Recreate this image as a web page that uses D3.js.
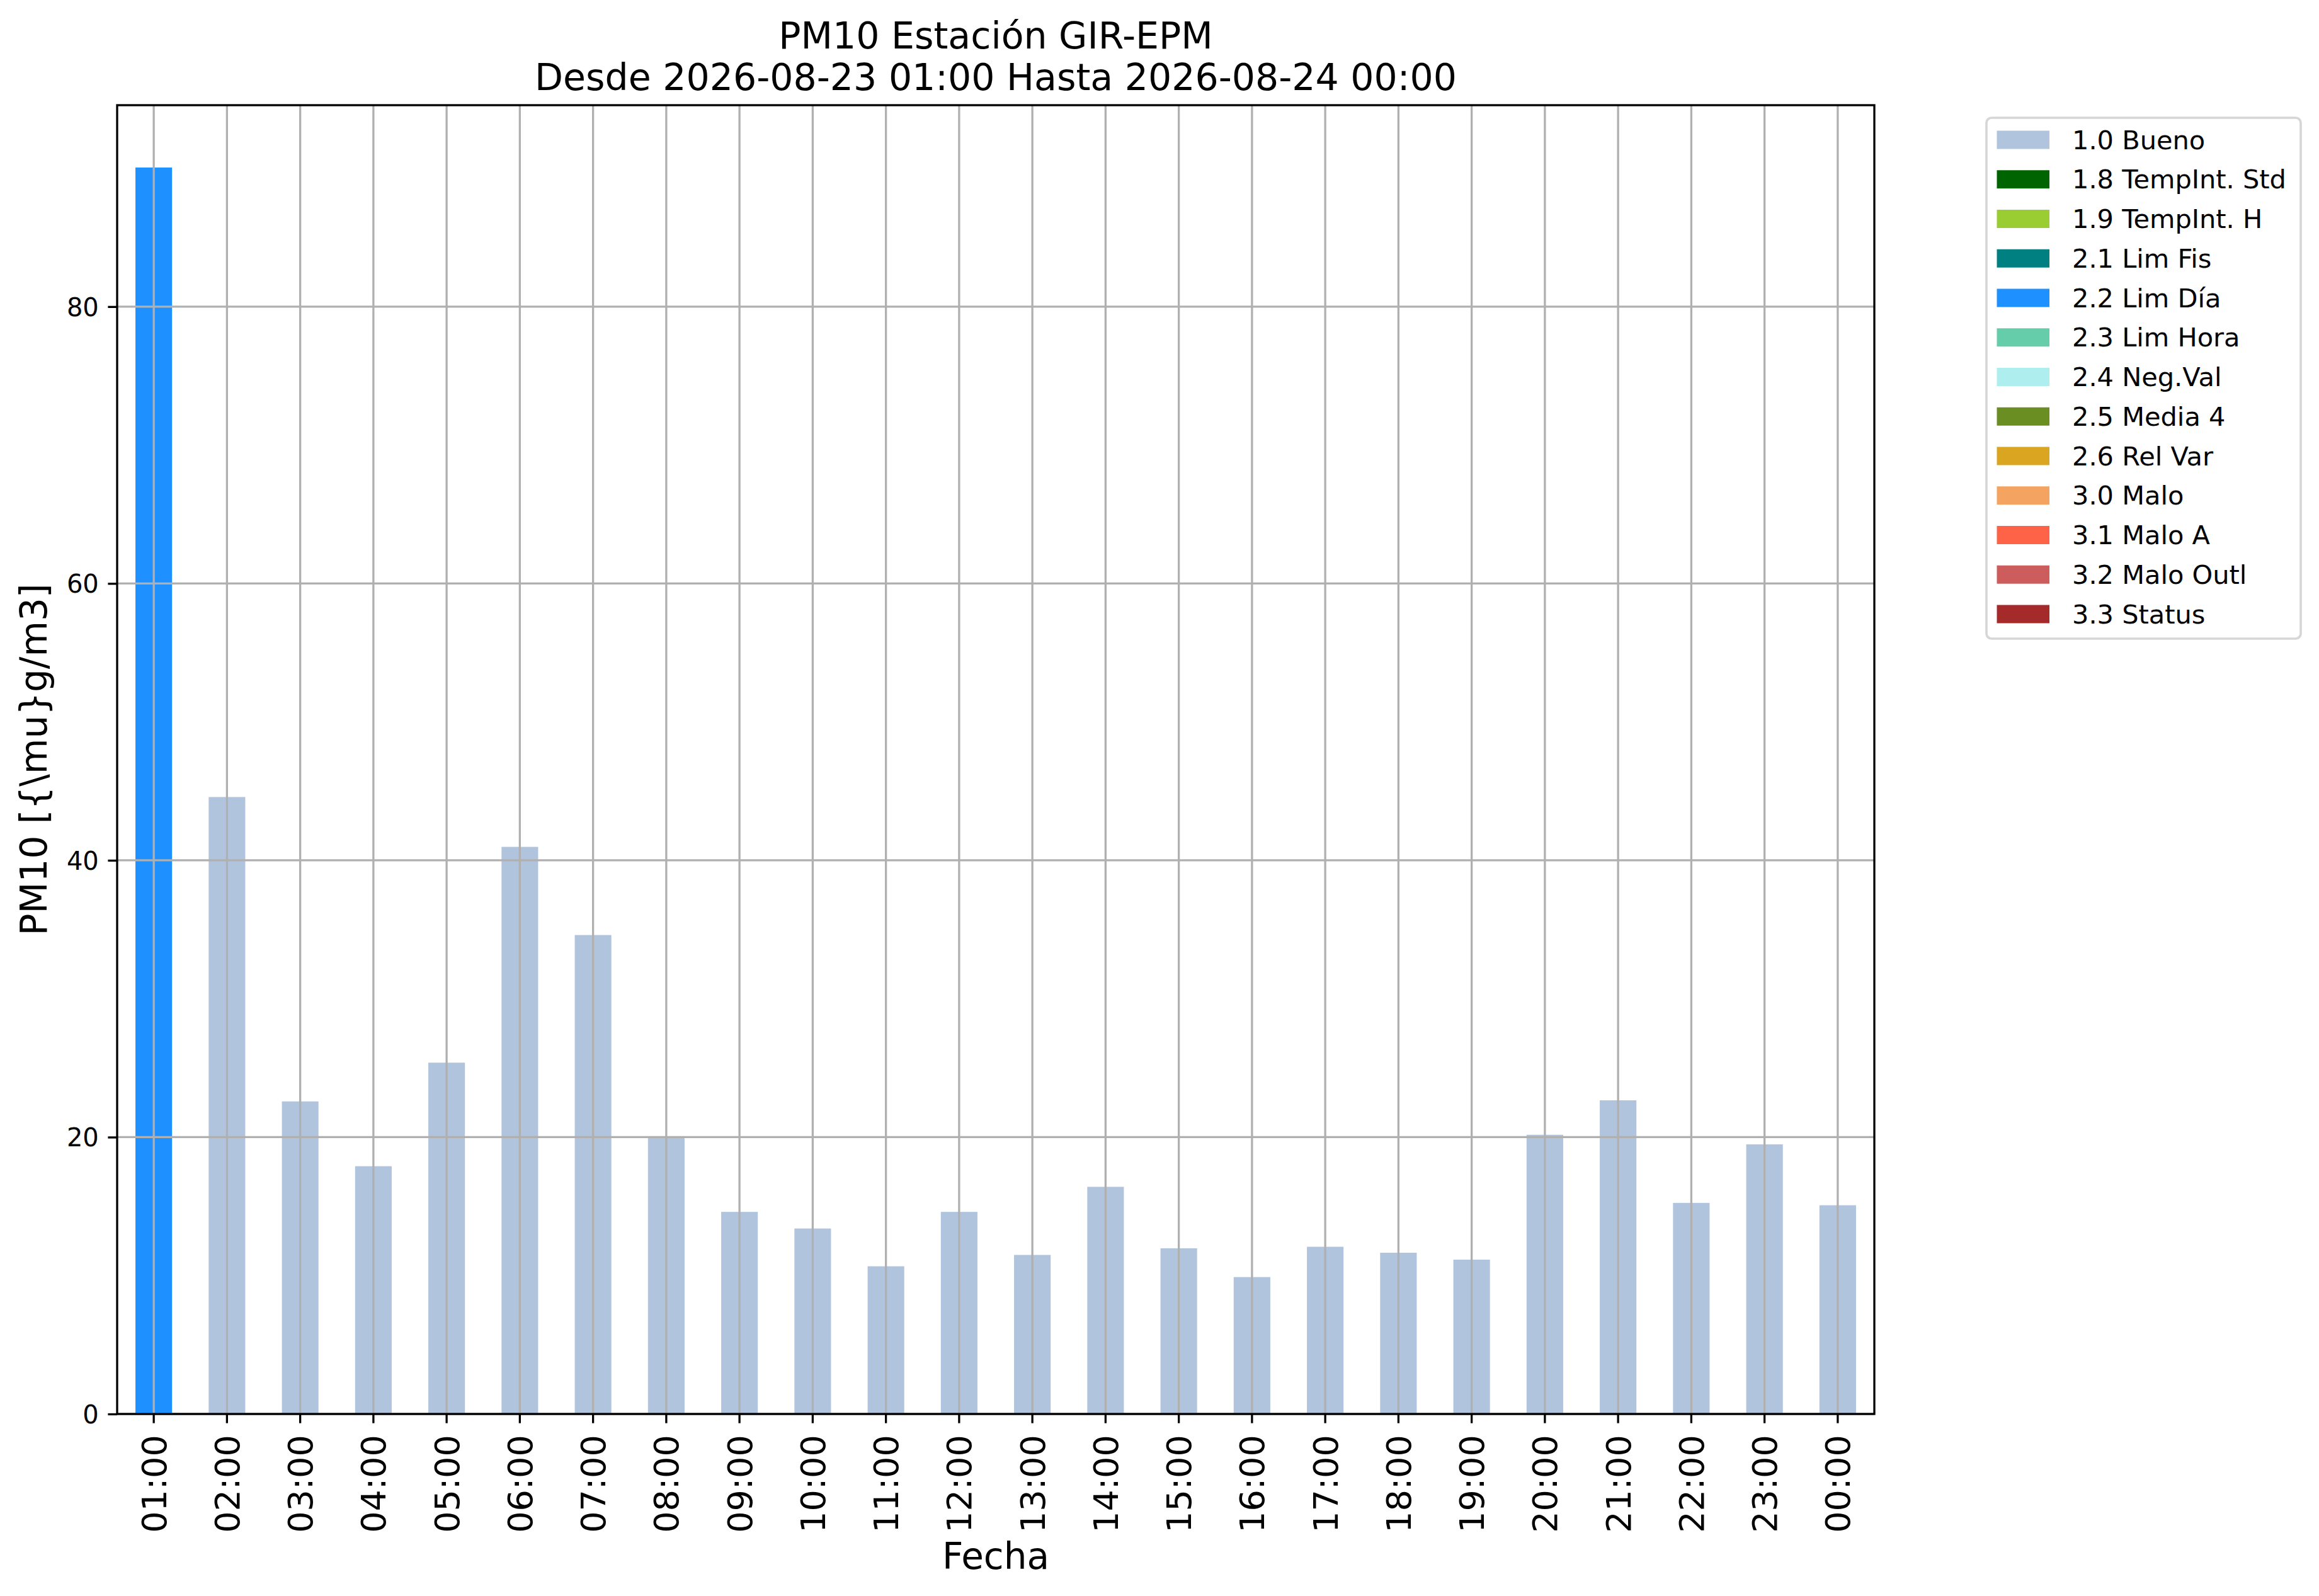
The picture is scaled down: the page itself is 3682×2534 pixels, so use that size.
<!DOCTYPE html>
<html>
<head>
<meta charset="utf-8">
<script src="https://cdn.jsdelivr.net/npm/d3@7"></script>
<style>
  html, body { margin: 0; padding: 0; background: #ffffff; }
  svg { display: block; }
  text { font-family: "DejaVu Sans", sans-serif; }
</style>
</head>
<body>
<svg id="chart" width="3682" height="2534"></svg>
<script>
// ---- data ----
const hours = ["01:00","02:00","03:00","04:00","05:00","06:00","07:00","08:00","09:00","10:00","11:00","12:00",
               "13:00","14:00","15:00","16:00","17:00","18:00","19:00","20:00","21:00","22:00","23:00","00:00"];
const pm10 = [90.05, 44.57, 22.58, 17.9, 25.38, 40.97, 34.6, 19.93, 14.6, 13.4, 10.67, 14.6,
              11.49, 16.41, 11.97, 9.89, 12.08, 11.65, 11.15, 20.17, 22.66, 15.25, 19.48, 15.08];
const flags = ["2.2 Lim Día","1.0 Bueno","1.0 Bueno","1.0 Bueno","1.0 Bueno","1.0 Bueno","1.0 Bueno","1.0 Bueno",
               "1.0 Bueno","1.0 Bueno","1.0 Bueno","1.0 Bueno","1.0 Bueno","1.0 Bueno","1.0 Bueno","1.0 Bueno",
               "1.0 Bueno","1.0 Bueno","1.0 Bueno","1.0 Bueno","1.0 Bueno","1.0 Bueno","1.0 Bueno","1.0 Bueno"];
const legendLabels = ["1.0 Bueno","1.8 TempInt. Std","1.9 TempInt. H","2.1 Lim Fis","2.2 Lim Día","2.3 Lim Hora",
                      "2.4 Neg.Val","2.5 Media 4","2.6 Rel Var","3.0 Malo","3.1 Malo A","3.2 Malo Outl","3.3 Status"];
const legendColors = ["#b0c4de","#006400","#9acd32","#008080","#1e90ff","#66cdaa",
                      "#afeeee","#6b8e23","#daa520","#f4a460","#ff6347","#cd5c5c","#a52a2a"];
const yTicks = [0, 20, 40, 60, 80];
const titleLines = ["PM10 Estación GIR-EPM", "Desde 2026-08-23 01:00 Hasta 2026-08-24 00:00"];
const yLabel = "PM10 [{\\mu}g/m3]";
const xLabel = "Fecha";

// ---- layout ----
const L = 186, R = 2976, T = 167, B = 2245;
const lw = 3.3, tickLen = 14.6, pad = 14.6;
const svg = d3.select("#chart");

const color = d3.scaleOrdinal().domain(legendLabels).range(legendColors);
const x = d3.scaleBand().domain(hours).range([L, R]).paddingInner(0.5).paddingOuter(0.25);
const y = d3.scaleLinear().domain([0, d3.max(pm10) * 1.05]).range([B, T]);

// bars
svg.append("g").selectAll("rect").data(hours).join("rect")
  .attr("x", d => x(d))
  .attr("width", x.bandwidth())
  .attr("y", (d, i) => y(pm10[i]))
  .attr("height", (d, i) => B - y(pm10[i]))
  .attr("fill", (d, i) => color(flags[i]));

// grid (above bars)
const grid = svg.append("g").attr("stroke", "#b0b0b0").attr("stroke-width", lw);
grid.selectAll("line.v").data(hours).join("line").attr("class", "v")
  .attr("x1", d => x(d) + x.bandwidth() / 2).attr("x2", d => x(d) + x.bandwidth() / 2)
  .attr("y1", T).attr("y2", B);
grid.selectAll("line.h").data(yTicks).join("line").attr("class", "h")
  .attr("x1", L).attr("x2", R).attr("y1", d => y(d)).attr("y2", d => y(d));

// axes
const yAxis = svg.append("g").attr("transform", `translate(${L},0)`)
  .call(d3.axisLeft(y).tickValues(yTicks).tickSize(tickLen).tickPadding(pad).tickFormat(d3.format("d")));
yAxis.select(".domain").remove();
yAxis.selectAll(".tick line").attr("stroke", "#000").attr("stroke-width", lw);
yAxis.selectAll(".tick text").attr("font-size", 40).attr("font-family", "DejaVu Sans").attr("fill", "#000")
  .attr("dy", "0.36em");

const xAxis = svg.append("g").attr("transform", `translate(0,${B})`)
  .call(d3.axisBottom(x).tickSize(tickLen).tickPadding(pad));
xAxis.select(".domain").remove();
xAxis.selectAll(".tick line").attr("stroke", "#000").attr("stroke-width", lw);
xAxis.selectAll(".tick text")
  .attr("font-size", 54).attr("font-family", "DejaVu Sans").attr("fill", "#000")
  .attr("text-anchor", "end")
  .attr("transform", `translate(0,${tickLen + pad + 4}) rotate(-90)`)
  .attr("x", 0).attr("y", 0).attr("dy", "0.36em");

// spines
svg.append("rect").attr("x", L).attr("y", T).attr("width", R - L).attr("height", B - T)
  .attr("fill", "none").attr("stroke", "#000").attr("stroke-width", lw);

// title
svg.append("text").attr("x", (L + R) / 2).attr("y", 77).attr("text-anchor", "middle")
  .attr("font-size", 58.5).text(titleLines[0]);
svg.append("text").attr("x", (L + R) / 2).attr("y", 143).attr("text-anchor", "middle")
  .attr("font-size", 58.5).text(titleLines[1]);

// axis labels
svg.append("text").attr("transform", `translate(74,${(T + B) / 2}) rotate(-90)`)
  .attr("text-anchor", "middle").attr("font-size", 58).text(yLabel);
svg.append("text").attr("x", (L + R) / 2).attr("y", 2491).attr("text-anchor", "middle")
  .attr("font-size", 58).text(xLabel);

// legend
const lg = svg.append("g");
lg.append("rect").attr("x", 3154).attr("y", 187).attr("width", 499).attr("height", 827)
  .attr("rx", 8).attr("ry", 8)
  .attr("fill", "#ffffff").attr("fill-opacity", 0.8)
  .attr("stroke", "#d6d6d6").attr("stroke-width", 3.7);
const items = lg.selectAll("g.item").data(legendLabels).join("g").attr("class", "item")
  .attr("transform", (d, i) => `translate(0,${222 + i * 62.75})`);
items.append("rect").attr("x", 3170.5).attr("y", -14.5).attr("width", 83.5).attr("height", 29)
  .attr("fill", d => color(d));
items.append("text").attr("x", 3290).attr("y", 14.5).attr("font-size", 41.5).attr("fill", "#000")
  .text(d => d);
</script>
</body>
</html>
